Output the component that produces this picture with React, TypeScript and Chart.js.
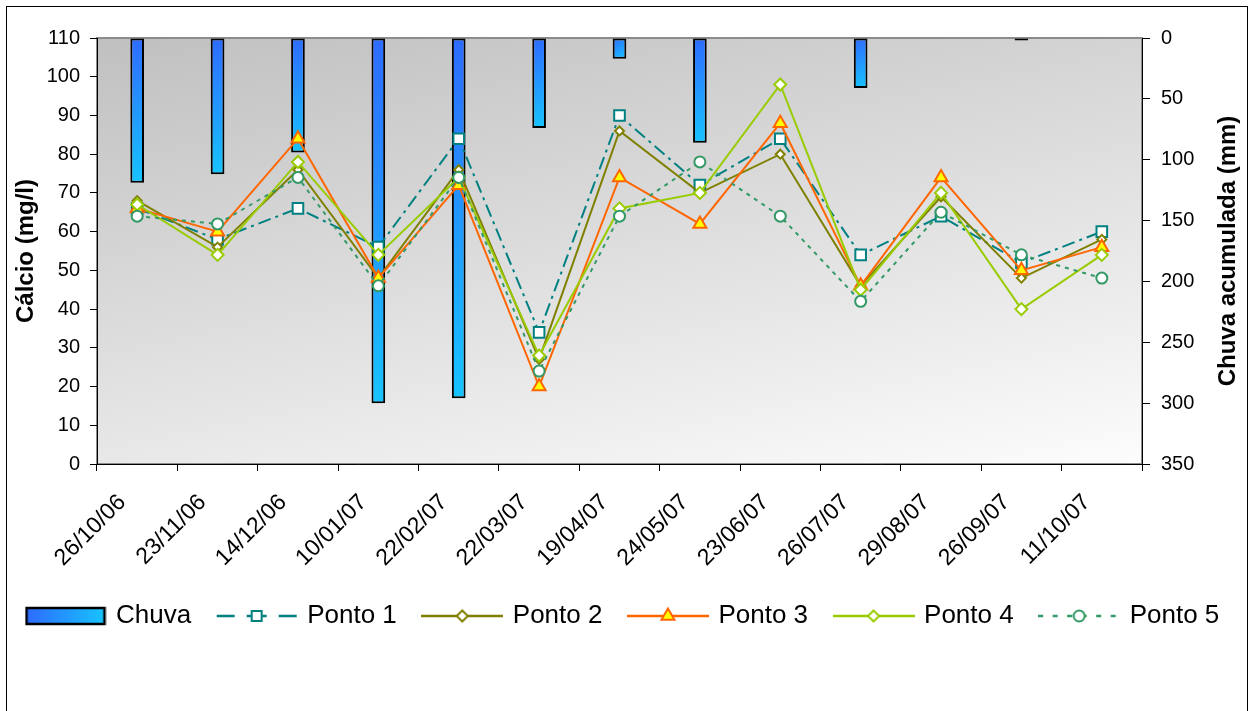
import React, { useEffect, useRef } from 'react';
import { Chart, registerables } from 'chart.js';

Chart.register(...registerables);

const FONT = '"Liberation Sans", Arial, sans-serif';

const categories = ['26/10/06', '23/11/06', '14/12/06', '10/01/07', '22/02/07', '22/03/07', '19/04/07', '24/05/07', '23/06/07', '26/07/07', '29/08/07', '26/09/07', '11/10/07'];
const chuva = [119, 112, 94, 300, 296, 74, 17, 86, 0, 41, 0, 2, 0];
const ponto1 = [66, 58, 66, 56, 84, 34, 90, 72, 84, 54, 64, 52, 60];
const ponto2 = [68, 56, 76, 48, 76, 27, 86, 70, 80, 46, 69, 48, 58];
const ponto3 = [66, 60, 84, 48, 72, 20, 74, 62, 88, 46, 74, 50, 56];
const ponto4 = [67, 54, 78, 54, 74, 28, 66, 70, 98, 45, 70, 40, 54];
const ponto5 = [64, 62, 74, 46, 74, 24, 64, 78, 64, 42, 65, 54, 48];

const leftTitle = 'Cálcio (mg/l)';
const rightTitle = 'Chuva acumulada (mm)';

type Series = {
  label: string;
  data: number[];
  color: string;
  fill: string;
  style: string;
  radius: number;
  dash: number[];
};

const series: Series[] = [
  { label: 'Ponto 1', data: ponto1, color: '#008080', fill: '#ffffff', style: 'rect', radius: 7.5, dash: [13, 5, 3, 5] },
  { label: 'Ponto 2', data: ponto2, color: '#808000', fill: '#ffffff', style: 'rectRot', radius: 4.5, dash: [] },
  { label: 'Ponto 3', data: ponto3, color: '#ff6600', fill: '#ffff00', style: 'triangle', radius: 7.5, dash: [] },
  { label: 'Ponto 4', data: ponto4, color: '#99cc00', fill: '#ffffff', style: 'rectRot', radius: 6, dash: [] },
  { label: 'Ponto 5', data: ponto5, color: '#339966', fill: '#ffffff', style: 'circle', radius: 5.5, dash: [4, 5] },
];

const BAR_TOP = '#2e6bff';
const BAR_BOTTOM = '#17c4ff';

function drawMarker(ctx: CanvasRenderingContext2D, style: string, x: number, y: number, r: number, stroke: string, fill: string, bw: number) {
  ctx.save();
  ctx.beginPath();
  if (style === 'rect') {
    const s = r * Math.SQRT1_2;
    ctx.rect(x - s, y - s, 2 * s, 2 * s);
  } else if (style === 'rectRot') {
    ctx.moveTo(x - r, y);
    ctx.lineTo(x, y - r);
    ctx.lineTo(x + r, y);
    ctx.lineTo(x, y + r);
    ctx.closePath();
  } else if (style === 'triangle') {
    let a = 0;
    ctx.moveTo(x + Math.sin(a) * r, y - Math.cos(a) * r);
    a += (2 * Math.PI) / 3;
    ctx.lineTo(x + Math.sin(a) * r, y - Math.cos(a) * r);
    a += (2 * Math.PI) / 3;
    ctx.lineTo(x + Math.sin(a) * r, y - Math.cos(a) * r);
    ctx.closePath();
  } else {
    ctx.arc(x, y, r, 0, Math.PI * 2);
  }
  ctx.fillStyle = fill;
  ctx.fill();
  ctx.setLineDash([]);
  ctx.lineWidth = bw;
  ctx.strokeStyle = stroke;
  ctx.stroke();
  ctx.restore();
}

function barSwatch(): HTMLCanvasElement {
  const c = document.createElement('canvas');
  c.width = 82;
  c.height = 26;
  const ctx = c.getContext('2d')!;
  const g = ctx.createLinearGradient(2, 0, 80, 0);
  g.addColorStop(0, BAR_TOP);
  g.addColorStop(1, BAR_BOTTOM);
  ctx.fillStyle = g;
  ctx.fillRect(2, 5, 78, 16);
  ctx.lineWidth = 2.5;
  ctx.strokeStyle = '#000';
  ctx.strokeRect(2, 5, 78, 16);
  return c;
}

function lineSwatch(s: Series, idx: number): HTMLCanvasElement {
  const c = document.createElement('canvas');
  c.width = 82;
  c.height = 26;
  const ctx = c.getContext('2d')!;
  ctx.strokeStyle = s.color;
  ctx.lineWidth = 2.5;
  const y = 13;
  if (idx === 0) {
    ctx.beginPath();
    ctx.moveTo(1, y); ctx.lineTo(19, y);
    ctx.moveTo(31, y); ctx.lineTo(51, y);
    ctx.moveTo(63, y); ctx.lineTo(81, y);
    ctx.stroke();
  } else if (idx === 4) {
    ctx.setLineDash([5, 9.5]);
    ctx.beginPath();
    ctx.moveTo(0, y); ctx.lineTo(82, y);
    ctx.stroke();
  } else {
    ctx.beginPath();
    ctx.moveTo(0, y); ctx.lineTo(82, y);
    ctx.stroke();
  }
  const r = s.style === 'triangle' ? 7.5 : s.style === 'rect' ? 7 : 5.5;
  drawMarker(ctx, s.style, 41, y, r, s.color, s.fill, 2);
  return c;
}

const plotBackground = {
  id: 'plotBackground',
  beforeDraw(chart: any) {
    const { ctx, chartArea: a } = chart;
    if (!a) return;
    const w = a.right - a.left;
    const h = a.bottom - a.top;
    const g = ctx.createLinearGradient(a.left, a.top, a.left + w * 0.119, a.top + h * 1.432);
    g.addColorStop(0, '#c0c0c0');
    g.addColorStop(1, '#fcfcfc');
    ctx.save();
    ctx.fillStyle = g;
    ctx.fillRect(a.left, a.top, w, h);
    ctx.strokeStyle = '#8c8c8c';
    ctx.lineWidth = 2;
    ctx.strokeRect(a.left, a.top, w, h);
    ctx.restore();
  },
};

const rightAxisTitle = {
  id: 'rightAxisTitle',
  afterDraw(chart: any) {
    const { ctx, chartArea: a } = chart;
    const sc = chart.scales.y1;
    if (!sc) return;
    ctx.save();
    ctx.translate(sc.right - 22, (a.top + a.bottom) / 2);
    ctx.rotate(-Math.PI / 2);
    ctx.font = `bold 24px ${FONT}`;
    ctx.fillStyle = '#000';
    ctx.textAlign = 'center';
    ctx.textBaseline = 'middle';
    ctx.fillText(rightTitle, 0, 0);
    ctx.restore();
  },
};

export default function App() {
  const ref = useRef<HTMLCanvasElement | null>(null);

  useEffect(() => {
    if (!ref.current) return;

    const barDataset: any = {
      type: 'bar',
      label: 'Chuva',
      data: chuva,
      yAxisID: 'y1',
      order: 10,
      borderColor: '#000',
      borderWidth: 2,
      borderSkipped: false,
      categoryPercentage: 1,
      barPercentage: 0.17,
      backgroundColor: (c: any) => {
        const chart = c.chart;
        const xs = chart.scales?.x;
        const ys = chart.scales?.y1;
        if (c.type !== 'data' || !xs || !ys || !chart.chartArea) return BAR_TOP;
        const cx = xs.getPixelForValue(c.dataIndex);
        const top = ys.getPixelForValue(0);
        let bot = ys.getPixelForValue(c.raw);
        if (bot - top < 2) bot = top + 2;
        const g = chart.ctx.createLinearGradient(cx - 7, top, cx + 7, bot);
        g.addColorStop(0, BAR_TOP);
        g.addColorStop(1, BAR_BOTTOM);
        return g;
      },
    };

    const lineDatasets: any[] = series.map((s, i) => ({
      type: 'line',
      label: s.label,
      data: s.data,
      yAxisID: 'y',
      order: 5 - i,
      borderColor: s.color,
      backgroundColor: s.fill,
      borderWidth: 2,
      borderDash: s.dash,
      borderCapStyle: 'butt',
      tension: 0,
      fill: false,
      pointStyle: s.style,
      pointRadius: s.radius,
      pointBorderWidth: 2,
      pointBorderColor: s.color,
      pointBackgroundColor: s.fill,
    }));

    const swatches: HTMLCanvasElement[] = [barSwatch(), ...series.map((s, i) => lineSwatch(s, i))];
    const legendNames = ['Chuva', ...series.map((s) => s.label)];

    const chart = new Chart(ref.current, {
      type: 'bar',
      data: {
        labels: categories,
        datasets: [barDataset, ...lineDatasets],
      },
      options: {
        responsive: false,
        animation: false,
        events: [],
        layout: { padding: { top: 38, left: 0, right: 0, bottom: 72 } },
        plugins: {
          tooltip: { enabled: false },
          title: { display: false },
          legend: {
            display: true,
            position: 'bottom',
            align: 'start',
            labels: {
              usePointStyle: true,
              pointStyleWidth: 75,
              padding: 28,
              color: '#000',
              font: { family: FONT, size: 26 },
              generateLabels: () =>
                legendNames.map((name, i) => ({
                  text: name,
                  pointStyle: swatches[i] as any,
                  fillStyle: 'rgba(0,0,0,0)',
                  strokeStyle: 'rgba(0,0,0,0)',
                  lineWidth: 0,
                  hidden: false,
                  datasetIndex: i,
                  fontColor: '#000',
                })),
            },
          },
        },
        scales: {
          x: {
            type: 'category',
            offset: true,
            grid: { display: true, offset: true, drawOnChartArea: false, drawTicks: true, tickLength: 7, color: '#000' },
            border: { display: true, color: '#000', width: 1 },
            ticks: {
              color: '#000',
              font: { family: FONT, size: 23 },
              minRotation: 45,
              maxRotation: 45,
              autoSkip: false,
              padding: 18,
              labelOffset: -15,
            },
            afterFit: (s: any) => { s.height = 111; },
          },
          y: {
            type: 'linear',
            position: 'left',
            min: 0,
            max: 110,
            grid: { display: true, drawOnChartArea: false, drawTicks: true, tickLength: 7, color: '#000' },
            border: { display: true, color: '#000', width: 1 },
            ticks: { stepSize: 10, color: '#000', font: { family: FONT, size: 20 }, padding: 10 },
            title: { display: true, text: leftTitle, color: '#000', font: { family: FONT, size: 24, weight: 'bold' }, padding: { top: 12, bottom: 0 } },
            afterFit: (s: any) => { s.width = 97; },
          },
          y1: {
            type: 'linear',
            position: 'right',
            min: 0,
            max: 350,
            reverse: true,
            grid: { display: true, drawOnChartArea: false, drawTicks: true, tickLength: 8, color: '#000' },
            border: { display: true, color: '#000', width: 1 },
            ticks: { stepSize: 50, color: '#000', font: { family: FONT, size: 20 }, padding: 11 },
            afterFit: (s: any) => { s.width = 108; },
          },
        },
      } as any,
      plugins: [plotBackground, rightAxisTitle],
    });

    return () => chart.destroy();
  }, []);

  return (
    <div>
      <div
        style={{
          position: 'absolute',
          left: 6,
          top: 6,
          width: 1240,
          height: 705,
          borderTop: '1px solid #000',
          borderLeft: '1px solid #000',
          borderRight: '1px solid #000',
          background: '#fff',
        }}
      />
      <canvas
        ref={ref}
        width={1250}
        height={711}
        style={{ position: 'absolute', left: 0, top: 0, width: 1250, height: 711 }}
      />
    </div>
  );
}
